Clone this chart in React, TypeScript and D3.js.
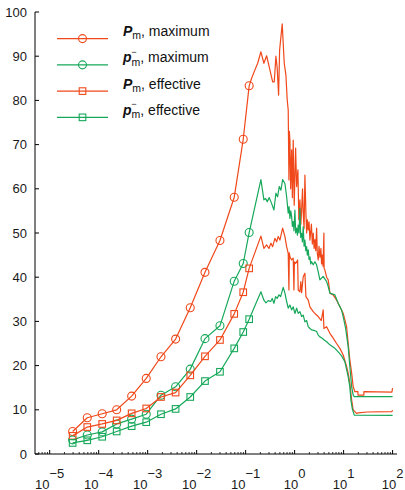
import React from "react";
import * as d3 from "d3";

// ---- data ----
const markerX = [2.94e-5, 5.85e-5, 1.18e-4, 2.33e-4, 4.71e-4, 9.35e-4, 1.87e-3, 3.72e-3, 7.4e-3, 0.0148, 0.0299, 0.0585, 0.0893, 0.118];
const pMaxMarkers = [5.1, 8.2, 9.1, 10.0, 13.1, 17.1, 22.0, 26.0, 33.1, 41.1, 48.3, 58.1, 71.2, 83.3];
const pBarMaxMarkers = [3.2, 4.3, 5.0, 6.8, 7.9, 9.0, 13.3, 15.2, 19.2, 26.1, 29.0, 39.1, 43.1, 50.1];
const pEffMarkers = [4.1, 6.1, 6.8, 7.6, 9.2, 10.3, 12.9, 13.9, 17.8, 22.1, 25.8, 31.7, 36.6, 42.0];
const pBarEffMarkers = [2.5, 3.1, 3.9, 5.1, 6.3, 7.2, 9.0, 10.2, 12.9, 16.5, 18.6, 23.9, 27.6, 30.5];

const pMaxDense: [number, number][] = [
  [0.1325, 85.0], [0.155, 86.9], [0.176, 88.4], [0.205, 91.0], [0.236, 88.4], [0.268, 90.1], [0.313, 86.9],
  [0.356, 84.2], [0.384, 84.2], [0.415, 90.0], [0.441, 87.3], [0.471, 81.2], [0.494, 91.4], [0.558, 97.3],
  [0.614, 88.4], [0.664, 85.7], [0.706, 80.1], [0.74, 77.8], [0.765, 62.0], [0.78, 73.0], [0.802, 71.0],
  [0.83, 60.0], [0.869, 68.8], [0.9, 58.0], [0.936, 71.0], [0.981, 56.3], [1.048, 69.2], [1.099, 60.5],
  [1.167, 64.3], [1.22, 53.0], [1.283, 57.5], [1.34, 52.0], [1.389, 55.2], [1.45, 60.0], [1.498, 54.5],
  [1.56, 51.0], [1.622, 63.1], [1.701, 54.5], [1.757, 50.0], [1.82, 53.0], [1.896, 50.7], [1.97, 52.5],
  [2.052, 48.4], [2.2, 52.0], [2.3, 47.5], [2.397, 50.0], [2.5, 46.5], [2.6, 48.5], [2.7, 46.0], [2.812, 51.1],
  [2.9, 45.5], [3.032, 43.9], [3.15, 47.0], [3.283, 44.5], [3.443, 46.5], [3.55, 43.0], [3.66, 45.0],
  [3.8, 42.5], [3.963, 50.0], [4.0, 42.0], [4.152, 41.6], [4.5, 40.0], [4.85, 39.4], [5.25, 36.4], [6.13, 36.0],
  [7.19, 34.8], [8.4, 33.3], [9.82, 31.8], [11.5, 28.8], [12.4, 25.1], [13.4, 21.3], [14.6, 18.3], [15.7, 15.2],
  [17.0, 14.1], [19.6, 14.1], [19.7, 13.3], [25.9, 13.3], [26.0, 14.1], [96.8, 14.0], [100, 14.9],
];
const pBarMaxDense: [number, number][] = [
  [0.205, 62.1], [0.236, 57.5], [0.256, 57.8], [0.276, 57.1], [0.303, 58.0], [0.339, 56.7], [0.378, 55.2],
  [0.415, 59.0], [0.45, 58.2], [0.485, 60.5], [0.525, 59.7], [0.569, 62.1], [0.634, 61.2], [0.687, 58.2],
  [0.74, 54.5], [0.77, 56.0], [0.802, 53.3], [0.835, 55.0], [0.869, 53.7], [0.9, 51.5], [0.936, 52.6],
  [0.97, 50.5], [1.014, 55.2], [1.05, 50.0], [1.099, 51.1], [1.14, 49.5], [1.184, 51.8], [1.23, 50.0],
  [1.283, 55.6], [1.33, 49.0], [1.389, 49.9], [1.44, 48.0], [1.498, 51.4], [1.56, 47.0], [1.622, 48.4],
  [1.69, 46.0], [1.757, 46.9], [1.82, 45.0], [1.896, 46.2], [1.97, 44.0], [2.052, 44.6], [2.13, 43.0],
  [2.22, 43.5], [2.397, 42.8], [2.6, 43.5], [2.812, 42.8], [3.032, 41.2], [3.283, 39.4], [3.83, 40.2],
  [4.498, 39.0], [4.85, 37.9], [5.25, 36.4], [6.64, 36.0], [7.76, 34.1], [9.1, 32.6], [10.15, 30.3],
  [11.0, 28.4], [12.4, 24.3], [13.4, 19.8], [14.6, 15.2], [15.7, 13.3], [16.5, 13.0], [100, 13.0],
];
const pEffDense: [number, number][] = [
  [0.205, 49.3], [0.236, 46.5], [0.268, 47.3], [0.299, 46.5], [0.328, 47.7], [0.356, 46.9], [0.396, 48.8],
  [0.429, 48.0], [0.463, 49.2], [0.501, 48.4], [0.569, 51.1], [0.634, 49.2], [0.687, 46.9], [0.74, 45.4],
  [0.765, 37.1], [0.78, 45.5], [0.802, 44.6], [0.869, 43.9], [0.936, 44.3], [0.968, 37.1], [0.99, 43.5],
  [1.048, 43.1], [1.152, 43.9], [1.184, 37.1], [1.283, 36.7], [1.34, 39.0], [1.39, 36.5], [1.498, 40.1],
  [1.622, 40.9], [1.701, 35.6], [1.896, 34.8], [2.052, 33.3], [2.397, 32.2], [2.596, 31.8], [3.032, 31.1],
  [3.5, 30.2], [3.83, 32.6], [3.963, 28.4], [4.498, 28.8], [5.25, 27.3], [6.13, 26.2], [7.19, 25.0],
  [8.4, 23.9], [9.82, 22.4], [11.5, 19.8], [12.4, 18.3], [13.4, 16.0], [14.6, 12.2], [15.7, 10.0],
  [18.4, 9.2], [19.9, 9.3], [30, 9.5], [96.8, 9.6], [100, 9.9],
];
const pBarEffDense: [number, number][] = [
  [0.205, 36.7], [0.236, 34.8], [0.26, 34.2], [0.289, 34.7], [0.324, 34.5], [0.349, 35.2], [0.378, 34.1],
  [0.409, 35.6], [0.441, 35.2], [0.478, 36.0], [0.518, 35.6], [0.585, 37.7], [0.634, 36.4], [0.687, 34.5],
  [0.74, 33.0], [0.802, 33.7], [0.869, 32.6], [0.936, 33.3], [1.014, 31.8], [1.099, 33.0], [1.184, 31.8],
  [1.283, 32.2], [1.389, 31.1], [1.498, 31.4], [1.622, 29.9], [1.757, 30.2], [1.896, 28.8], [2.052, 28.4],
  [2.22, 28.1], [2.596, 27.9], [2.812, 27.7], [3.032, 26.9], [3.283, 26.5], [3.66, 26.2], [4.02, 25.8],
  [4.498, 25.4], [5.25, 24.7], [6.64, 23.9], [7.76, 23.1], [9.1, 22.2], [10.6, 20.9], [12.4, 17.5],
  [13.4, 15.2], [14.1, 12.2], [15.0, 10.3], [16.5, 8.8], [100, 8.75],
];

const yTicks = [0, 10, 20, 30, 40, 50, 60, 70, 80, 90, 100];
const xExponents = [-5, -4, -3, -2, -1, 0, 1, 2];

const ORANGE = "#f0481a";
const GREEN = "#16a85a";
const FONT = "'Liberation Sans', Arial, Helvetica, sans-serif";

type Series = { main: string; sup: boolean; label: string; color: string; marker: "circle" | "square"; markers: number[]; dense: [number, number][] };
const series: Series[] = [
  { main: "P", sup: false, label: ", maximum", color: ORANGE, marker: "circle", markers: pMaxMarkers, dense: pMaxDense },
  { main: "p", sup: true, label: ", maximum", color: GREEN, marker: "circle", markers: pBarMaxMarkers, dense: pBarMaxDense },
  { main: "P", sup: false, label: ", effective", color: ORANGE, marker: "square", markers: pEffMarkers, dense: pEffDense },
  { main: "p", sup: true, label: ", effective", color: GREEN, marker: "square", markers: pBarEffMarkers, dense: pBarEffDense },
];

const W = 405, H = 490;
const x = d3.scaleLog().domain([Math.pow(10, -5.3), Math.pow(10, 2.09)]).range([35, 397]);
const y = d3.scaleLinear().domain([0, 100]).range([454, 12]);

function Marker({ kind, cx, cy, color }: { kind: string; cx: number; cy: number; color: string }) {
  if (kind === "circle") return <circle cx={cx} cy={cy} r={4} fill="none" stroke={color} strokeWidth={1.1} />;
  const s = 6.6;
  return <rect x={cx - s / 2} y={cy - s / 2} width={s} height={s} fill="none" stroke={color} strokeWidth={1.1} />;
}

export default function App() {
  const line = d3.line<[number, number]>().x((d) => x(d[0])).y((d) => y(d[1]));
  const [d0, d1] = x.domain();
  const minor: number[] = [];
  for (let e = -6; e <= 2; e++) {
    for (let k = 2; k <= 9; k++) {
      const v = k * Math.pow(10, e);
      if (v >= d0 && v <= d1) minor.push(v);
    }
  }
  return (
    <svg width={W} height={H} style={{ position: "absolute", left: 0, top: 0, background: "#fff" }} fontFamily={FONT}>
      {/* axes */}
      <line x1={35} x2={35} y1={y(100)} y2={y(0)} stroke="#000" strokeWidth={1} />
      <line x1={35} x2={397} y1={y(0)} y2={y(0)} stroke="#000" strokeWidth={1} />
      {yTicks.map((t) => (
        <g key={"y" + t}>
          <line x1={35} x2={39} y1={y(t)} y2={y(t)} stroke="#000" />
          <text x={27} y={y(t) + 4.6} textAnchor="end" fontSize={13} fill="#1a1a1a">{t}</text>
        </g>
      ))}
      {minor.map((v, i) => (
        <line key={"m" + i} x1={x(v)} x2={x(v)} y1={y(0)} y2={y(0) - 2} stroke="#000" strokeWidth={0.8} />
      ))}
      {xExponents.map((e) => {
        const px = x(Math.pow(10, e));
        return (
          <g key={"x" + e}>
            <line x1={px} x2={px} y1={y(0)} y2={y(0) - 4} stroke="#000" />
            <text x={px} y={488.5} textAnchor="middle" fontSize={13} fill="#1a1a1a">
              <tspan>10</tspan>
              <tspan dy={-11}>{e < 0 ? "\u2212" + Math.abs(e) : String(e)}</tspan>
            </text>
          </g>
        );
      })}
      {/* series */}
      {series.map((s, i) => {
        const pts: [number, number][] = markerX.map((xv, j) => [xv, s.markers[j]] as [number, number]).concat(s.dense);
        return (
          <g key={"s" + i}>
            <path d={line(pts) || ""} fill="none" stroke={s.color} strokeWidth={1.2} strokeLinejoin="round" />
            {markerX.map((xv, j) => (
              <Marker key={j} kind={s.marker} cx={x(xv)} cy={y(s.markers[j])} color={s.color} />
            ))}
          </g>
        );
      })}
      {/* legend */}
      {series.map((s, i) => {
        const ly = 38.6 + i * 26.25;
        const base = ly - 2.6;
        return (
          <g key={"l" + i}>
            <line x1={57} x2={108} y1={ly} y2={ly} stroke={s.color} strokeWidth={1.2} />
            <Marker kind={s.marker} cx={82.5} cy={ly} color={s.color} />
            <text x={123} y={base} fontSize={14} fill="#111">
              <tspan fontWeight="bold" fontStyle="italic">{s.main}</tspan>
              <tspan fontSize={10.5} dy={3.4}>m</tspan>
              <tspan dy={-3.4}>{s.label}</tspan>
            </text>
            {s.sup && (
              <text x={131.2} y={base - 7.6} fontSize={9} fill="#111">{"\u2212"}</text>
            )}
          </g>
        );
      })}
    </svg>
  );
}
